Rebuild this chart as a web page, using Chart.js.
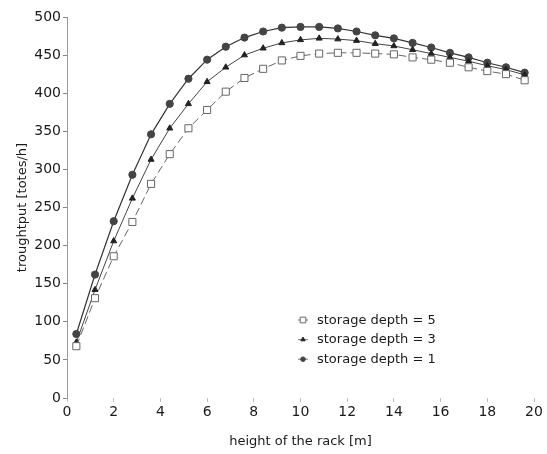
<!DOCTYPE html>
<html><head><meta charset="utf-8">
<script src="https://cdn.jsdelivr.net/npm/chart.js@4.4.1/dist/chart.umd.min.js"></script>
<style>html,body{margin:0;padding:0;background:#fff}</style>
</head><body>
<canvas id="c" width="547" height="454"></canvas>
<script>
const heights = [0.4, 1.2, 2.0, 2.8, 3.6, 4.4, 5.2, 6.0, 6.8, 7.6, 8.4, 9.2, 10.0, 10.8, 11.6, 12.4, 13.2, 14.0, 14.8, 15.6, 16.4, 17.2, 18.0, 18.8, 19.6];
const depth5 = [68, 131, 186, 231, 281, 320, 354, 378, 402, 420, 432, 443, 449, 452, 453, 453, 452, 451, 447, 444, 440, 434, 429, 425, 417];
const depth3 = [73, 142, 206, 262, 313, 354, 386, 415, 434, 450, 459, 466, 470, 472, 471, 469, 465, 462, 457, 452, 447, 442, 436, 431, 424];
const depth1 = [84, 162, 232, 293, 346, 386, 419, 444, 461, 473, 481, 486, 487, 487, 485, 481, 476, 472, 466, 460, 453, 447, 440, 434, 427];
const seriesLabels = ['storage depth = 5', 'storage depth = 3', 'storage depth = 1'];
const xTitle = 'height of the rack [m]';
const yTitle = 'troughtput [totes/h]';

function pts(vals) { return heights.map((h, i) => ({ x: h, y: vals[i] })); }

const insideLegend = {
  id: 'insideLegend',
  afterDatasetsDraw(chart) {
    const ctx = chart.ctx, a = chart.chartArea;
    const x0 = a.left + 236, y0 = a.top + 303, dy = 19.6;
    ctx.save();
    chart.data.datasets.forEach((ds, i) => {
      const y = y0 + i * dy;
      ctx.setLineDash([]);
      ctx.strokeStyle = '#777'; ctx.lineWidth = 1;
      ctx.beginPath(); ctx.moveTo(x0 - 5, y); ctx.lineTo(x0 + 5, y); ctx.stroke();
      ctx.fillStyle = ds.pointBackgroundColor; ctx.strokeStyle = ds.pointBorderColor;
      Chart.helpers.drawPoint(ctx, { pointStyle: ds.pointStyle, radius: ds.legendRadius, borderWidth: 1, rotation: 0 }, x0, y);
      ctx.fillStyle = '#1a1a1a'; ctx.font = '13px "DejaVu Sans"';
      ctx.textBaseline = 'middle'; ctx.textAlign = 'left';
      ctx.fillText(ds.label, x0 + 14, y + 0.5);
    });
    ctx.restore();
  }
};

new Chart(document.getElementById('c'), {
  type: 'line',
  data: {
    datasets: [
      { label: seriesLabels[0], data: pts(depth5), borderColor: '#666', borderWidth: 1, borderDash: [8, 4],
        pointStyle: 'rect', pointRadius: 5, pointBackgroundColor: '#fff', pointBorderColor: '#666', pointBorderWidth: 1, legendRadius: 4 },
      { label: seriesLabels[1], data: pts(depth3), borderColor: '#444', borderWidth: 1,
        pointStyle: 'triangle', pointRadius: 3.5, pointBackgroundColor: '#222', pointBorderColor: '#222', pointBorderWidth: 1, legendRadius: 2.5 },
      { label: seriesLabels[2], data: pts(depth1), borderColor: '#333', borderWidth: 1.2,
        pointStyle: 'circle', pointRadius: 3.6, pointBackgroundColor: '#444', pointBorderColor: '#444', pointBorderWidth: 1, legendRadius: 2.3 }
    ]
  },
  options: {
    responsive: false,
    animation: false,
    layout: { padding: { top: 17, right: 13, left: 0, bottom: 0 } },
    plugins: { legend: { display: false }, tooltip: { enabled: false } },
    scales: {
      x: {
        type: 'linear', min: 0, max: 20,
        afterFit: (s) => { s.height = 56; },
        ticks: { stepSize: 2, color: '#1a1a1a', font: { family: 'DejaVu Sans', size: 14 }, padding: 2, maxRotation: 0 },
        grid: { drawOnChartArea: false, color: '#bbb', tickLength: 4 },
        border: { display: false },
        title: { display: true, text: xTitle, color: '#1a1a1a', font: { family: 'DejaVu Sans', size: 13 }, padding: { top: 4, bottom: 4.5 } }
      },
      y: {
        min: 0, max: 500,
        afterFit: (s) => { s.width = 67; },
        ticks: { stepSize: 50, color: '#1a1a1a', font: { family: 'DejaVu Sans', size: 14 }, padding: 2 },
        grid: { drawOnChartArea: false, color: '#888', tickLength: 4 },
        border: { display: true, color: '#999', width: 1 },
        title: { display: true, text: yTitle, color: '#1a1a1a', font: { family: 'DejaVu Sans', size: 13 }, padding: { top: 15, bottom: 4 } }
      }
    }
  },
  plugins: [insideLegend]
});
</script>
</body></html>
